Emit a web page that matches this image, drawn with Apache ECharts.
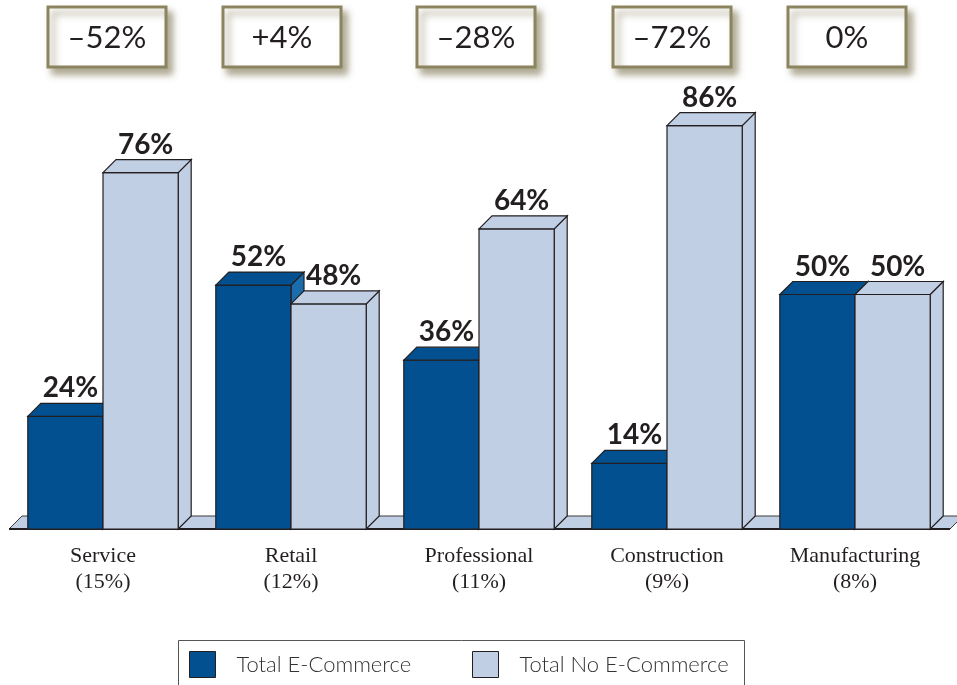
<!DOCTYPE html>
<html>
<head>
<meta charset="utf-8">
<script src="https://cdn.jsdelivr.net/npm/echarts@6/dist/echarts.min.js"></script>
<style>
  html, body { margin: 0; padding: 0; background: #ffffff; }
  #chart { width: 957px; height: 685px; }
</style>
</head>
<body>
<div id="chart"></div>
<script>
// Industry sectors and their share of the surveyed firms
const categories = ['Service', 'Retail', 'Professional', 'Construction', 'Manufacturing'];
const sectorShares = ['15%', '12%', '11%', '9%', '8%'];

// Percentage of firms in each sector with / without e-commerce
const withEcommerce = [24, 52, 36, 14, 50];
const withoutEcommerce = [76, 48, 64, 86, 50];

const seriesNames = ['Total E-Commerce', 'Total No E-Commerce'];

const DARK = '#02508f';
const DARK_SIDE = '#1b6cad';
const LIGHT = '#c1cfe4';
const INK = '#231f20';
const DEPTH = 13;

// Difference between the two groups, shown in the boxes above each sector
const gaps = withEcommerce.map((v, i) => v - withoutEcommerce[i]);
function formatGap(d) {
  if (d < 0) return '\u2013' + Math.abs(d) + '%';
  if (d > 0) return '+' + d + '%';
  return '0%';
}

// Pseudo-3D bar: front face, right side face and top face
function barRenderer(leftOfCenter, face, sideFace) {
  return function (params, api) {
    const idx = api.value(0);
    const val = api.value(1);
    const base = api.coord([idx, 0]);
    const top = api.coord([idx, val]);
    const bw = api.size([1, 0])[0] * 0.4;
    const x0 = leftOfCenter ? base[0] - bw : base[0];
    const yb = base[1];
    const yt = top[1];
    const lw = 1.2;
    return {
      type: 'group',
      children: [
        {
          type: 'polygon',
          shape: { points: [[x0 + bw, yt], [x0 + bw + DEPTH, yt - DEPTH], [x0 + bw + DEPTH, yb - DEPTH], [x0 + bw, yb]] },
          style: { fill: sideFace, stroke: INK, lineWidth: lw }
        },
        {
          type: 'rect',
          shape: { x: x0, y: yt, width: bw, height: yb - yt },
          style: { fill: face, stroke: INK, lineWidth: lw }
        },
        {
          type: 'polygon',
          shape: { points: [[x0, yt], [x0 + DEPTH, yt - DEPTH], [x0 + bw + DEPTH, yt - DEPTH], [x0 + bw, yt]] },
          style: { fill: face, stroke: INK, lineWidth: lw }
        },
        {
          type: 'text',
          z2: 100,
          style: {
            text: val + '%',
            x: x0 + bw / 2 + 5,
            y: yt - DEPTH - 1,
            align: 'center',
            verticalAlign: 'bottom',
            font: 'bold 28px Lato',
            fill: INK
          }
        }
      ]
    };
  };
}

// Floor slab under the bars
function floorRenderer(params, api) {
  const cs = params.coordSys;
  const y = cs.y + cs.height;
  const xl = cs.x;
  const xr = cs.x + cs.width + 1;
  return {
    type: 'group',
    children: [
      {
        type: 'polygon',
        shape: { points: [[xl, y], [xl + DEPTH, y - DEPTH], [xr + DEPTH, y - DEPTH], [xr, y]] },
        style: { fill: LIGHT, stroke: '#3a3a3a', lineWidth: 1 }
      },
      {
        type: 'line',
        shape: { x1: xl, y1: y, x2: xr, y2: y },
        style: { stroke: INK, lineWidth: 2 }
      }
    ]
  };
}

// Boxed difference labels above each sector (small horizontal nudges per box)
const BOX_NUDGE = [4, -9, -3, 5, -8];
function gapRenderer(params, api) {
  const idx = api.value(0);
  const d = api.value(1);
  const cx = api.coord([idx, 0])[0] + BOX_NUDGE[idx];
  const w = 118, h = 60;
  return {
    type: 'group',
    children: [
      {
        type: 'rect',
        shape: { x: cx - w / 2, y: 7, width: w, height: h },
        style: {
          fill: '#ffffff',
          stroke: '#8c845f',
          lineWidth: 3,
          shadowBlur: 7,
          shadowOffsetX: 5,
          shadowOffsetY: 6,
          shadowColor: 'rgba(110, 100, 60, 0.55)'
        }
      },
      {
        type: 'text',
        style: {
          text: formatGap(d),
          x: cx,
          y: 38,
          align: 'center',
          verticalAlign: 'middle',
          font: 'normal 31px Lato',
          fill: INK
        }
      }
    ]
  };
}

const chart = echarts.init(document.getElementById('chart'), null, { renderer: 'canvas' });

const legendText = {
  fontFamily: 'Lato',
  fontWeight: 300,
  fontSize: 22,
  color: '#333333',
  padding: [0, 0, 0, 16]
};

chart.setOption({
  animation: false,
  backgroundColor: '#ffffff',
  grid: { left: 9, right: 8, top: 60, bottom: 156 },
  xAxis: {
    type: 'category',
    data: categories,
    axisLine: { show: false },
    axisTick: { show: false },
    axisLabel: {
      margin: 14,
      interval: 0,
      fontFamily: 'Liberation Serif',
      fontSize: 22,
      lineHeight: 26,
      color: INK,
      formatter: (v, i) => v + '\n(' + sectorShares[i] + ')'
    }
  },
  yAxis: {
    type: 'value',
    min: 0,
    max: 100,
    show: false,
    splitLine: { show: false }
  },
  graphic: [
    {
      type: 'rect',
      left: 178,
      top: 640,
      z: -10,
      shape: { width: 566, height: 60 },
      style: { fill: '#ffffff', stroke: '#555555', lineWidth: 1 }
    }
  ],
  legend: [
    {
      left: 184,
      top: 646,
      selectedMode: false,
      itemWidth: 26,
      itemHeight: 26,
      textStyle: legendText,
      data: [{ name: seriesNames[0], icon: 'rect', itemStyle: { color: DARK, borderColor: INK, borderWidth: 1 } }]
    },
    {
      left: 467,
      top: 646,
      selectedMode: false,
      itemWidth: 26,
      itemHeight: 26,
      textStyle: legendText,
      data: [{ name: seriesNames[1], icon: 'rect', itemStyle: { color: LIGHT, borderColor: INK, borderWidth: 1 } }]
    }
  ],
  series: [
    {
      type: 'custom',
      name: 'floor',
      clip: false,
      silent: true,
      renderItem: floorRenderer,
      data: [[0, 0]]
    },
    {
      type: 'custom',
      name: seriesNames[0],
      clip: false,
      itemStyle: { color: DARK },
      renderItem: barRenderer(true, DARK, DARK_SIDE),
      encode: { x: 0, y: 1 },
      data: withEcommerce.map((v, i) => [i, v])
    },
    {
      type: 'custom',
      name: seriesNames[1],
      clip: false,
      itemStyle: { color: LIGHT },
      renderItem: barRenderer(false, LIGHT, LIGHT),
      encode: { x: 0, y: 1 },
      data: withoutEcommerce.map((v, i) => [i, v])
    },
    {
      type: 'custom',
      name: 'gap',
      clip: false,
      silent: true,
      renderItem: gapRenderer,
      encode: { x: 0, y: 1 },
      data: gaps.map((d, i) => [i, d])
    }
  ]
});
</script>
</body>
</html>
